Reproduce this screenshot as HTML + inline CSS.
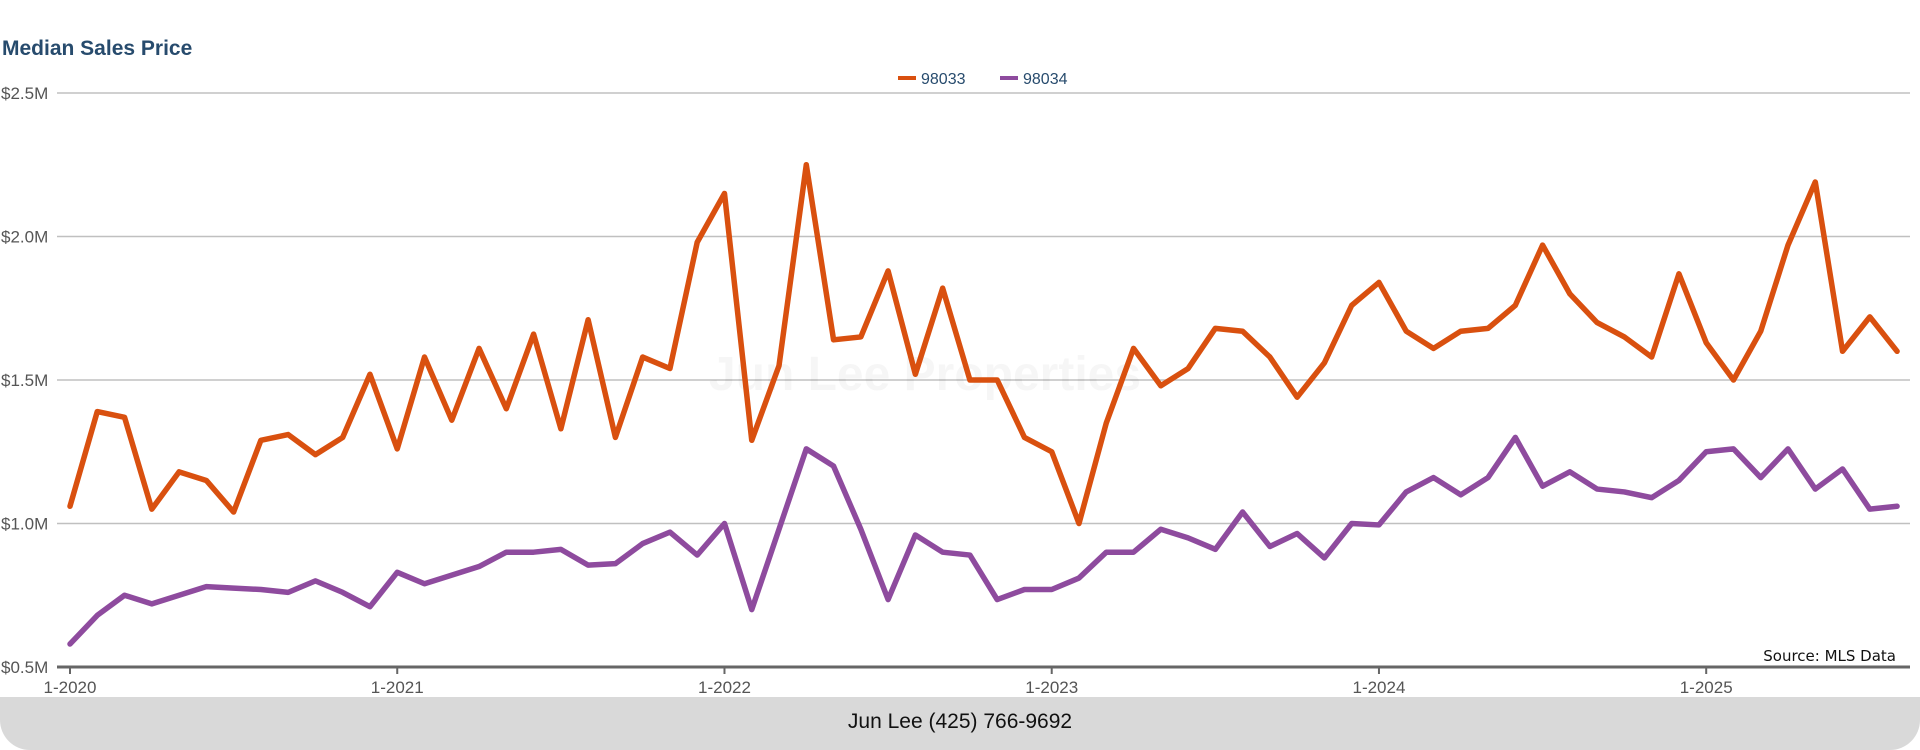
<!DOCTYPE html>
<html><head><meta charset="utf-8"><style>
body{margin:0;width:1920px;height:750px;background:#fff;overflow:hidden;font-family:"Liberation Sans",sans-serif;position:relative}
#title{position:absolute;left:2px;top:37px;font-size:21px;font-weight:bold;color:#274b6d}
#footer{position:absolute;left:0;top:697px;width:1920px;height:53px;background:#d9d9d9;border-radius:0 0 30px 30px;text-align:center;line-height:50px;font-size:21px;color:#111}
svg{position:absolute;left:0;top:0}
</style></head><body>
<div id="title">Median Sales Price</div>
<svg id="chart" width="1920" height="697"></svg>
<div id="footer">Jun Lee (425) 766-9692</div>
<script>
const yTicks=[0.5,1.0,1.5,2.0,2.5];
const yTickLabels=["$0.5M","$1.0M","$1.5M","$2.0M","$2.5M"];
const xTickLabels=["1-2020","1-2021","1-2022","1-2023","1-2024","1-2025"];
const seriesNames=["98033","98034"];
const s98033=[1.06,1.39,1.37,1.05,1.18,1.15,1.04,1.29,1.31,1.24,1.30,1.52,1.26,1.58,1.36,1.61,1.40,1.66,1.33,1.71,1.30,1.58,1.54,1.98,2.15,1.29,1.55,2.25,1.64,1.65,1.88,1.52,1.82,1.50,1.50,1.30,1.25,1.00,1.35,1.61,1.48,1.54,1.68,1.67,1.58,1.44,1.56,1.76,1.84,1.67,1.61,1.67,1.68,1.76,1.97,1.80,1.70,1.65,1.58,1.87,1.63,1.50,1.67,1.97,2.19,1.60,1.72,1.60];
const s98034=[0.58,0.68,0.75,0.72,0.75,0.78,0.775,0.77,0.76,0.80,0.76,0.71,0.83,0.79,0.82,0.85,0.90,0.90,0.91,0.855,0.86,0.93,0.97,0.89,1.00,0.70,0.98,1.26,1.20,0.98,0.735,0.96,0.90,0.89,0.735,0.77,0.77,0.81,0.90,0.90,0.98,0.95,0.91,1.04,0.92,0.965,0.88,1.00,0.995,1.11,1.16,1.10,1.16,1.30,1.13,1.18,1.12,1.11,1.09,1.15,1.25,1.26,1.16,1.26,1.12,1.19,1.05,1.06];
const colors=["#d9500f","#8e4b9e"];
const NS="http://www.w3.org/2000/svg";
const svg=document.getElementById('chart');
const L=57,R=1910,T=93,B=667,X0=70,MONTH=27.27;
const y=v=>B-(v-0.5)/2.0*(B-T);
const x=i=>X0+i*MONTH;
function mk(t,a){const e=document.createElementNS(NS,t);for(const k in a)e.setAttribute(k,a[k]);svg.appendChild(e);return e;}
yTicks.forEach((v,i)=>{
  const g=mk('line',{x1:L,x2:R,y1:y(v),y2:y(v),stroke:i==0?'#666':'#c0c0c0','stroke-width':i==0?3:1.5});
  
  
  const t=mk('text',{x:1,y:y(v)+6,'font-size':17,fill:'#555','font-family':'Liberation Sans'});
  t.textContent=yTickLabels[i];
  
  
});
xTickLabels.forEach((lb,i)=>{
  const xx=x(i*12);
  const tk=mk('line',{x1:xx,x2:xx,y1:B,y2:B+7,stroke:'#666','stroke-width':2});
  
  
  const t=mk('text',{x:xx,y:B+26,'font-size':17,fill:'#555','text-anchor':'middle','font-family':'Liberation Sans'});
  t.textContent=lb;
  
  
});
const wm=mk('text',{x:925,y:390,'font-size':48,'font-weight':'bold',fill:'#000','fill-opacity':0.035,'text-anchor':'middle','font-family':'Liberation Sans'});
wm.textContent='Jun Lee Properties';


[s98033,s98034].forEach((s,k)=>{
  const p=mk('polyline',{points:s.map((v,i)=>x(i)+','+y(v)).join(' '),fill:'none',stroke:colors[k],'stroke-width':5.5,'stroke-linejoin':'round','stroke-linecap':'round'});
  
  
});
const lx=[898,1000];
seriesNames.forEach((n,k)=>{
  const l=mk('line',{x1:lx[k],x2:lx[k]+18,y1:78,y2:78,stroke:colors[k],'stroke-width':4});
  
  
  const t=mk('text',{x:lx[k]+23,y:84,'font-size':16,fill:'#274b6d','font-family':'Liberation Sans'});
  t.textContent=n;
  
  
});
const src=mk('text',{x:1896,y:661,'font-size':15,fill:'#111','text-anchor':'end','font-family':'DejaVu Sans'});
src.textContent='Source: MLS Data';


</script>
</body></html>
